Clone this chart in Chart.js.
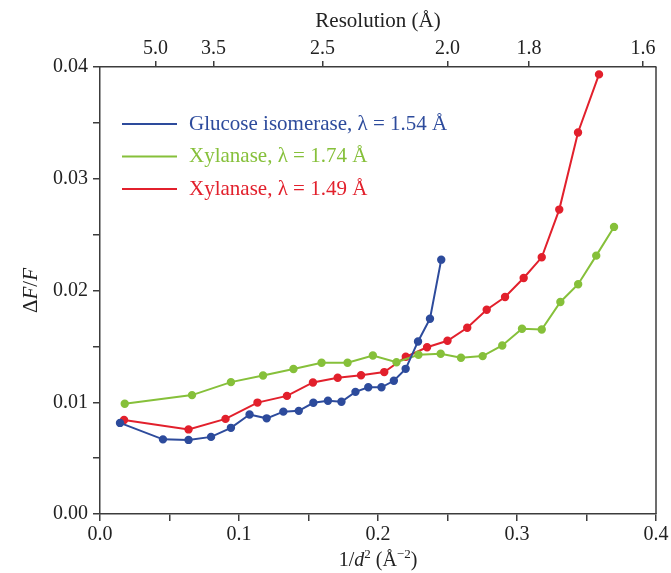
<!DOCTYPE html>
<html lang="en">
<head>
<meta charset="UTF-8">
<title>ΔF/F vs 1/d²</title>
<script src="https://cdn.jsdelivr.net/npm/chart.js"></script>
<style>
    body { margin: 0; background: #fff; }
</style>
</head>
<body>
<canvas id="myChart" width="671" height="573"></canvas>
<script>
    // values
    const glucoseX = [0.0144, 0.0453, 0.0637, 0.0799, 0.0942, 0.1076, 0.1199, 0.1319, 0.1430, 0.1535,
        0.1640, 0.1737, 0.1838, 0.1930, 0.2025, 0.2114, 0.2199, 0.2288, 0.2374, 0.2455];
    const glucoseY = [0.00815, 0.00668, 0.00663, 0.00690, 0.00771, 0.00890, 0.00856, 0.00916, 0.00923, 0.00995,
        0.01014, 0.01004, 0.01093, 0.01134, 0.01134, 0.01192, 0.01299, 0.01544, 0.01747, 0.02276];

    const xyl174X = [0.0178, 0.0662, 0.0942, 0.1173, 0.1392, 0.1594, 0.1781, 0.1963, 0.2133, 0.2291,
        0.2451, 0.2597, 0.2753, 0.2894, 0.3036, 0.3178, 0.3312, 0.3440, 0.3570, 0.3698];
    const xyl174Y = [0.00986, 0.01064, 0.01180, 0.01239, 0.01297, 0.01353, 0.01353, 0.01418, 0.01358, 0.01425,
        0.01434, 0.01398, 0.01413, 0.01508, 0.01658, 0.01651, 0.01897, 0.02056, 0.02312, 0.02569];

    const xyl149X = [0.0173, 0.0637, 0.0903, 0.1133, 0.1345, 0.1532, 0.1710, 0.1878, 0.2045, 0.2200,
        0.2353, 0.2500, 0.2642, 0.2782, 0.2914, 0.3048, 0.3178, 0.3304, 0.3439, 0.3590];
    const xyl149Y = [0.00842, 0.00757, 0.00851, 0.00997, 0.01057, 0.01177, 0.01219, 0.01241, 0.01270, 0.01407,
        0.01492, 0.01550, 0.01667, 0.01828, 0.01942, 0.02112, 0.02297, 0.02724, 0.03414, 0.03934];

    const seriesNames = ['Glucose isomerase, λ = 1.54 Å', 'Xylanase, λ = 1.74 Å', 'Xylanase, λ = 1.49 Å'];
    const resolutionTicks = [5.0, 3.5, 2.5, 2.0, 1.8, 1.6];   // Å, top axis at 1/d²

    const serif = '"Liberation Serif", "Times New Roman", serif';
    const axisColor = '#3c3c3c';
    const colors = ['#2d4b9c', '#86c03a', '#e2202c'];

    function toPoints(xs, ys) {
        return xs.map((x, i) => ({x: x, y: ys[i]}));
    }

    // draw a text made of pieces (italic / superscript), centred on x
    function drawParts(ctx, parts, x, y, size) {
        const fontOf = p => (p.italic ? 'italic ' : '') + (p.sup ? Math.round(size * 0.65) : size) + 'px ' + serif;
        let total = 0;
        parts.forEach(p => { ctx.font = fontOf(p); total += ctx.measureText(p.t).width; });
        let cx = x - total / 2;
        ctx.textAlign = 'left';
        ctx.textBaseline = 'alphabetic';
        parts.forEach(p => {
            ctx.font = fontOf(p);
            ctx.fillText(p.t, cx, p.sup ? y - size * 0.38 : y);
            cx += ctx.measureText(p.t).width;
        });
    }

    const extrasPlugin = {
        id: 'extras',
        afterDraw(chart) {
            const ctx = chart.ctx;
            const area = chart.chartArea;
            ctx.save();

            // right frame line
            ctx.strokeStyle = axisColor;
            ctx.lineWidth = 1.5;
            ctx.beginPath();
            ctx.moveTo(area.right, area.top);
            ctx.lineTo(area.right, area.bottom);
            ctx.stroke();

            // legend inside the plot
            chart.data.datasets.forEach((ds, i) => {
                const y = area.top + 57 + i * 32.5;
                ctx.strokeStyle = ds.borderColor;
                ctx.lineWidth = 2;
                ctx.beginPath();
                ctx.moveTo(area.left + 22, y);
                ctx.lineTo(area.left + 77, y);
                ctx.stroke();
                ctx.fillStyle = ds.borderColor;
                ctx.font = '21px ' + serif;
                ctx.textAlign = 'left';
                ctx.textBaseline = 'middle';
                ctx.fillText(ds.label, area.left + 89, y);
            });

            // axis titles
            ctx.fillStyle = '#222';
            drawParts(ctx, [{t: 'Resolution (Å)'}], (area.left + area.right) / 2, 27, 21);
            drawParts(ctx, [{t: '1/'}, {t: 'd', italic: true}, {t: '2', sup: true}, {t: ' (Å'}, {t: '−2', sup: true}, {t: ')'}],
                (area.left + area.right) / 2, 566, 20);

            ctx.translate(37, (area.top + area.bottom) / 2);
            ctx.rotate(-Math.PI / 2);
            drawParts(ctx, [{t: 'Δ'}, {t: 'F', italic: true}, {t: '/'}, {t: 'F', italic: true}], 0, 0, 21);
            ctx.restore();
        }
    };

    const tickFont = {family: serif, size: 20};
    const gridOpts = {drawOnChartArea: false, drawTicks: true, tickLength: 7, color: axisColor, lineWidth: 1.5};
    const borderOpts = {color: axisColor, width: 1.5};

    const ctx = document.getElementById('myChart').getContext('2d');
    const data = {
        datasets: [
            {label: seriesNames[0], data: toPoints(glucoseX, glucoseY)},
            {label: seriesNames[1], data: toPoints(xyl174X, xyl174Y)},
            {label: seriesNames[2], data: toPoints(xyl149X, xyl149Y)}
        ].map((ds, i) => Object.assign(ds, {
            borderColor: colors[i],
            backgroundColor: colors[i],
            pointBackgroundColor: colors[i],
            pointBorderColor: colors[i],
            pointRadius: 3.2,
            borderWidth: 2,
            tension: 0,
            fill: false
        }))
    };

    new Chart(ctx, {
        type: 'line',
        data: data,
        options: {
            responsive: false,
            animation: false,
            devicePixelRatio: 1,
            layout: {padding: {top: 0, right: 15, bottom: 0, left: 0}},
            plugins: {legend: {display: false}, tooltip: {enabled: false}},
            scales: {
                x: {
                    type: 'linear', position: 'bottom', min: 0, max: 0.4,
                    ticks: {
                        stepSize: 0.05, autoSkip: false, maxRotation: 0, padding: 2,
                        color: '#222', font: tickFont,
                        callback: (v) => Math.round(v * 100) % 10 === 0 ? v.toFixed(1) : ''
                    },
                    grid: gridOpts, border: borderOpts,
                    afterFit: s => { s.height = 59; }
                },
                x2: {
                    type: 'linear', position: 'top', min: 0, max: 0.4,
                    afterBuildTicks: s => { s.ticks = resolutionTicks.map(d => ({value: 1 / (d * d)})); },
                    ticks: {
                        autoSkip: false, maxRotation: 0, padding: 0,
                        color: '#222', font: tickFont,
                        callback: (v, i) => resolutionTicks[i].toFixed(1)
                    },
                    grid: Object.assign({}, gridOpts, {tickLength: 6}), border: borderOpts,
                    afterFit: s => { s.height = 67; }
                },
                y: {
                    min: 0, max: 0.04,
                    ticks: {
                        stepSize: 0.005, autoSkip: false, padding: 5,
                        color: '#222', font: tickFont,
                        callback: (v) => Math.round(v * 1000) % 10 === 0 ? v.toFixed(2) : ''
                    },
                    grid: gridOpts, border: borderOpts,
                    afterFit: s => { s.width = 100; }
                }
            }
        },
        plugins: [extrasPlugin]
    });
</script>
</body>
</html>
